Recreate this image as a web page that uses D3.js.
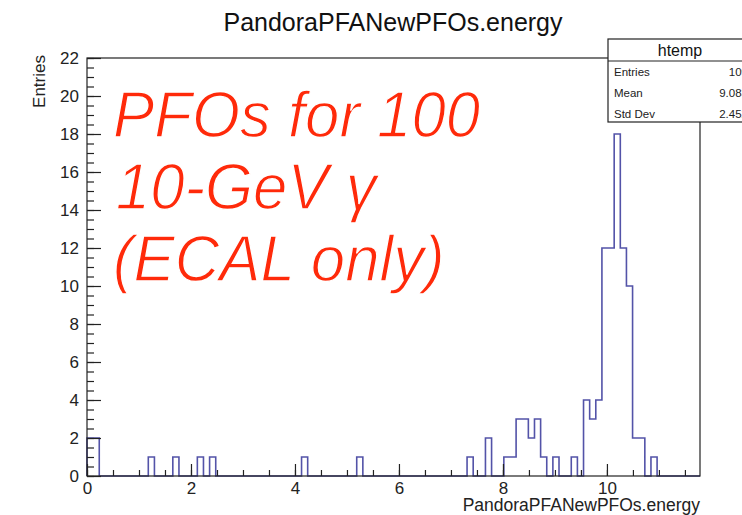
<!DOCTYPE html>
<html>
<head>
<meta charset="utf-8">
<script src="https://cdn.jsdelivr.net/npm/d3@7"></script>
<style>
  html, body { margin: 0; padding: 0; background: #fff; }
  svg { display: block; }
  text { font-family: "Liberation Sans", Arial, Helvetica, sans-serif; }
</style>
</head>
<body>
<svg id="chart" width="742" height="515"></svg>
<script>
// Histogram of PandoraPFANewPFOs.energy: 100 bins from 0 to xMax
const nBins = 100;
const xMin = 0;
const xMax = 11.79;
const yMax = 22;

// non-empty bins (bin index) and their contents
const filledBins = [0, 1, 10, 14, 18, 20, 35, 44, 62, 65, 68, 69, 70, 71, 72, 73, 74, 76, 79, 81, 82, 83, 84, 85, 86, 87, 88, 89, 90, 92];
const binCounts  = [2, 2, 1,  1,  1,  1,  1,  1,  1,  2,  1,  1,  3,  3,  2,  3,  1,  1,  1,  4,  3,  4,  12, 12, 18, 12, 10, 2,  2,  1];

const xTickValues = [0, 2, 4, 6, 8, 10];
const yTickValues = [0, 2, 4, 6, 8, 10, 12, 14, 16, 18, 20, 22];

const titleText = "PandoraPFANewPFOs.energy";
const xTitle = "PandoraPFANewPFOs.energy";
const yTitle = "Entries";
const statsName = "htemp";
const statsLabels = ["Entries", "Mean", "Std Dev"];
const statsValues = ["109", "9.083", "2.452"];
// annotation lines, each split into word groups
const noteLines = [["PFOs for 100"], ["10-GeV", "\u03B3"], ["(ECAL only)"]];

// full bin contents
const counts = new Array(nBins).fill(0);
filledBins.forEach((b, i) => { counts[b] = binCounts[i]; });
const binWidth = (xMax - xMin) / nBins;

const frame = { left: 87, right: 700, top: 58, bottom: 476 };
const svg = d3.select("#chart");

const x = d3.scaleLinear().domain([xMin, xMax]).range([frame.left, frame.right]);
const y = d3.scaleLinear().domain([0, yMax]).range([frame.bottom, frame.top]);

// histogram outline
const pts = [];
counts.forEach((c, i) => pts.push([xMin + i * binWidth, c]));
pts.push([xMax, 0]);
const line = d3.line()
  .x(d => x(d[0]))
  .y(d => y(d[1]))
  .curve(d3.curveStepAfter);
svg.append("path")
  .attr("d", line([[xMin, 0], ...pts]))
  .attr("fill", "none")
  .attr("stroke", "#5353a8")
  .attr("stroke-width", 1.6);

// frame
svg.append("rect")
  .attr("x", frame.left).attr("y", frame.top)
  .attr("width", frame.right - frame.left)
  .attr("height", frame.bottom - frame.top)
  .attr("fill", "none").attr("stroke", "#222").attr("stroke-width", 1.2);

// x axis ticks
const xMinor = d3.range(0, xMax, 0.5);
const xAxisMinor = d3.axisBottom(x).tickValues(xMinor).tickSize(-6).tickFormat("");
const xAxisMajor = d3.axisBottom(x).tickValues(xTickValues).tickSize(-12).tickPadding(6).tickFormat(d3.format("d"));
[xAxisMinor, xAxisMajor].forEach(ax => {
  const g = svg.append("g").attr("transform", `translate(0,${frame.bottom})`).call(ax);
  g.select(".domain").remove();
  g.selectAll("line").attr("stroke", "#222").attr("stroke-width", 1.2);
  g.selectAll("text").attr("font-size", 17).attr("fill", "#222")
    .attr("font-family", "Liberation Sans, Arial, sans-serif");
});

// y axis ticks
const yMinor = d3.range(0, yMax + 0.01, 0.5);
const yAxisMinor = d3.axisLeft(y).tickValues(yMinor).tickSize(-7).tickFormat("");
const yAxisMajor = d3.axisLeft(y).tickValues(yTickValues).tickSize(-14).tickPadding(8).tickFormat(d3.format("d"));
[yAxisMinor, yAxisMajor].forEach(ax => {
  const g = svg.append("g").attr("transform", `translate(${frame.left},0)`).call(ax);
  g.select(".domain").remove();
  g.selectAll("line").attr("stroke", "#222").attr("stroke-width", 1.2);
  g.selectAll("text").attr("font-size", 17).attr("fill", "#222")
    .attr("font-family", "Liberation Sans, Arial, sans-serif");
});

// titles
svg.append("text").attr("x", 393).attr("y", 31)
  .attr("text-anchor", "middle").attr("font-size", 25).attr("fill", "#111")
  .text(titleText);
svg.append("text").attr("x", frame.right).attr("y", 511)
  .attr("text-anchor", "end").attr("font-size", 17.5).attr("fill", "#222")
  .text(xTitle);
svg.append("text")
  .attr("transform", `translate(45,${frame.top - 3}) rotate(-90)`)
  .attr("text-anchor", "end").attr("font-size", 17).attr("fill", "#222")
  .text(yTitle);

// statistics box
const box = { x: 608, y: 39, w: 144, h: 83, head: 22 };
const sb = svg.append("g");
sb.append("rect").attr("x", box.x).attr("y", box.y).attr("width", box.w).attr("height", box.h)
  .attr("fill", "#fff").attr("stroke", "#222").attr("stroke-width", 1.2);
sb.append("line").attr("x1", box.x).attr("x2", box.x + box.w)
  .attr("y1", box.y + box.head).attr("y2", box.y + box.head)
  .attr("stroke", "#222").attr("stroke-width", 1.2);
sb.append("text").attr("x", box.x + box.w / 2).attr("y", box.y + 17)
  .attr("text-anchor", "middle").attr("font-size", 16).attr("fill", "#111").text(statsName);
statsLabels.forEach((lab, i) => {
  const yy = box.y + 37 + i * 21;
  sb.append("text").attr("x", box.x + 6).attr("y", yy)
    .attr("font-size", 11.5).attr("fill", "#222").text(lab);
  sb.append("text").attr("x", box.x + box.w - 4).attr("y", yy)
    .attr("text-anchor", "end").attr("font-size", 11.5).attr("fill", "#222").text(statsValues[i]);
});

// annotation in light italic, slightly condensed
const note = svg.append("text")
  .attr("transform", "translate(113,0) scale(0.95,1)")
  .attr("font-family", "Roboto, 'Liberation Sans', sans-serif")
  .attr("font-style", "italic").attr("font-weight", 300)
  .attr("font-size", 65).attr("fill", "#ff2a0a")
  .attr("stroke", "#fff").attr("stroke-width", 1.3);
noteLines.forEach((words, i) => {
  words.forEach((w, j) => {
    const t = note.append("tspan").text(w);
    if (j === 0) t.attr("x", i === 1 ? 3 : 0).attr("y", 137 + i * 72);
    else t.attr("dx", 18);
  });
});
</script>
</body>
</html>
